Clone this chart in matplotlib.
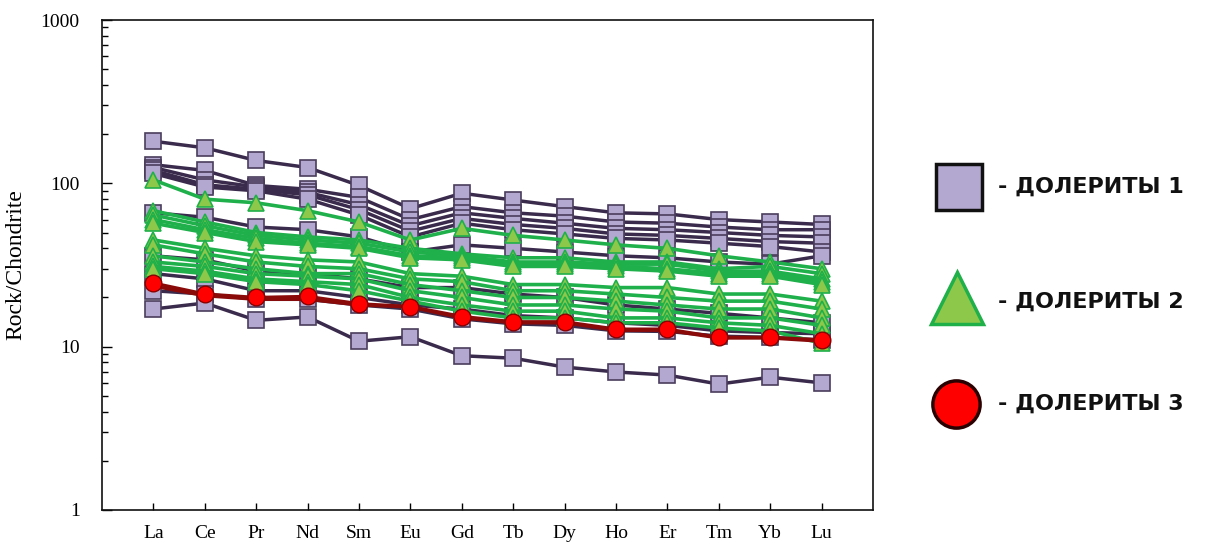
import matplotlib
matplotlib.use("Agg")
import matplotlib.pyplot as plt
from matplotlib.ticker import LogLocator, NullFormatter, FixedLocator

elements = ["La", "Ce", "Pr", "Nd", "Sm", "Eu", "Gd", "Tb", "Dy", "Ho", "Er", "Tm", "Yb", "Lu"]

# Dolerites 1 (purple squares)
dol1 = [
    [181, 165, 138, 125, 97, 70, 87, 79, 72, 66, 65, 60, 58, 56],
    [130, 120, 97, 92, 82, 60, 72, 66, 63, 58, 57, 54, 52, 52],
    [125, 105, 95, 88, 74, 55, 66, 61, 57, 53, 52, 50, 48, 47],
    [120, 98, 92, 85, 69, 51, 61, 56, 53, 49, 48, 46, 44, 43],
    [115, 95, 90, 80, 64, 47, 57, 52, 49, 46, 45, 43, 41, 38],
    [66, 62, 54, 52, 47, 38, 42, 40, 38, 36, 35, 33, 32, 36],
    [36, 34, 29, 28, 26, 23, 23, 21, 20, 18, 17, 16, 15, 14],
    [28, 26, 22, 22, 20, 18, 17, 15.5, 15, 14, 13.5, 12.5, 12.2, 12],
    [22, 21, 19.5, 19.5, 18, 17, 14.8, 13.8, 13.5, 12.5, 12.4, 11.6, 11.4, 11],
    [17, 18.5, 14.5, 15.2, 10.8, 11.5, 8.8, 8.5, 7.5, 7.0, 6.7, 5.9, 6.5, 6.0],
]

# Dolerites 2 (green triangles)
dol2 = [
    [105, 80, 76, 68, 58, 45, 53, 48, 45, 42, 40, 36, 33, 30],
    [68, 58, 50, 47, 45, 40, 37, 35, 35, 33, 33, 30, 31, 28],
    [64, 55, 48, 45, 43, 38, 36, 33, 33, 32, 32, 29, 29, 26],
    [60, 52, 46, 43, 41, 36, 35, 32, 32, 31, 30, 28, 28, 25],
    [57, 50, 44, 42, 40, 35, 34, 31, 31, 30, 29, 27, 27, 24],
    [45, 40, 36, 34, 33, 28, 27, 24, 24, 23, 23, 21, 21, 19],
    [42, 37, 33, 31, 30, 26, 25, 22, 22, 21, 20, 19, 19, 17],
    [36, 33, 30, 28, 28, 24, 22, 20, 20, 19, 18, 17, 17, 15],
    [33, 31, 28, 27, 26, 22, 20, 18, 18, 17, 16.5, 15, 15, 13.5],
    [31, 29, 26, 25, 24, 20, 18, 16.5, 16.5, 15, 15, 14, 13.5, 12],
    [30, 28, 25, 24, 22, 19, 16.5, 15, 15, 14, 14, 13, 12.5, 10.5],
]

# Dolerites 3 (red circles)
dol3 = [
    [23.5, 20.5, 19.5, 19.5, 18, 17.5, 15, 14, 14, 12.6, 12.6, 11.3, 11.3, 10.8],
    [24.5, 21, 20, 20.3, 18.3, 17.6, 15.3, 14.2, 14.2, 12.8, 12.8, 11.4, 11.4, 11.0],
]

legend_labels = ["- ДОЛЕРИТЫ 1", "- ДОЛЕРИТЫ 2", "- ДОЛЕРИТЫ 3"]

W, H = 1215, 546
fig = plt.figure(figsize=(W / 100, H / 100), dpi=100)
ax = fig.add_axes([102 / W, 1 - 510 / H, (873 - 102) / W, (510 - 20) / H])

x = list(range(1, len(elements) + 1))

for row in dol1:
    ax.plot(x, row, color="#3a2a4c", lw=2.5, marker="s", ms=11.5,
            mfc="#b3a8cf", mec="#4a3d5c", mew=1.2, zorder=2)
for row in dol2:
    ax.plot(x, row, color="#1fb04c", lw=2.6, marker="^", ms=12,
            mfc="#8dc84a", mec="#20b04a", mew=1.2, zorder=3)
for i, row in enumerate(dol3):
    ax.plot(x, row, color="#8a0a0a", lw=2.4, marker="o" if i == 1 else None,
            ms=12, mfc="#ff0000", mec="#8a0000", mew=1.0, zorder=4)

ax.set_yscale("log")
ax.set_ylim(1, 1000)
ax.set_xlim(0, 15)
ax.xaxis.set_major_locator(FixedLocator(x))
ax.set_xticklabels(elements)
ax.yaxis.set_minor_locator(LogLocator(base=10, subs=range(2, 10), numticks=50))
ax.yaxis.set_minor_formatter(NullFormatter())
ax.set_yticks([1, 10, 100, 1000])
ax.set_yticklabels(["1", "10", "100", "1000"])

serif = "Liberation Serif"
for lab in ax.get_xticklabels() + ax.get_yticklabels():
    lab.set_fontfamily(serif)
    lab.set_fontsize(14)
ax.tick_params(axis="y", which="major", direction="in", length=7, width=1, pad=16,
               right=False)
ax.tick_params(axis="y", which="minor", direction="in", length=4, width=1, right=False)
ax.tick_params(axis="x", which="major", direction="in", length=5, width=1, pad=11,
               top=False)
for s in ax.spines.values():
    s.set_linewidth(1.2)
    s.set_color("#111111")

ax.set_ylabel("Rock/Chondrite", fontfamily=serif, fontsize=17, labelpad=10)

# legend drawn in pixel coordinates
lg = fig.add_axes([0, 0, 1, 1])
lg.set_xlim(0, W)
lg.set_ylim(H, 0)
lg.axis("off")
lg.plot([959], [187], marker="s", ms=33, mfc="#b3a8cf", mec="#111111", mew=2.5, ls="none")
lg.plot([957], [298], marker="^", ms=37, mfc="#8dc84a", mec="#20b04a", mew=2.5, ls="none")
lg.plot([956], [404], marker="o", ms=34, mfc="#ff0000", mec="#2a0000", mew=2.5, ls="none")
for yy, t in zip([187, 302, 404], legend_labels):
    lg.text(998, yy, t, fontfamily="DejaVu Sans", fontweight="bold", fontsize=16,
            va="center", ha="left", color="#111111")

fig.savefig("out.png", dpi=100)
